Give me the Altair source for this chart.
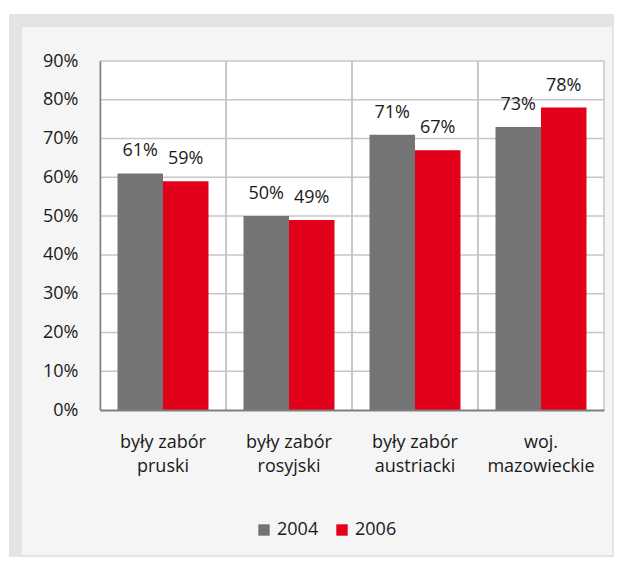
import altair as alt
import pandas as pd

categories = ["były zabór\npruski", "były zabór\nrosyjski", "były zabór\naustriacki", "woj.\nmazowieckie"]
years = ["2004", "2006"]
values_2004 = [61, 50, 71, 73]
values_2006 = [59, 49, 67, 78]
y_ticks = [0, 10, 20, 30, 40, 50, 60, 70, 80, 90]
colors = ["#747474", "#e2001a"]

rows = []
for c, a, b in zip(categories, values_2004, values_2006):
    rows.append({"cat": c, "year": "2004", "value": a, "label": f"{a}%"})
    rows.append({"cat": c, "year": "2006", "value": b, "label": f"{b}%"})
df = pd.DataFrame(rows)

FONT = "Open Sans"
FS = 18
W, H = 504, 349

x_axis = alt.Axis(title=None, labelExpr="split(datum.value, '\\n')", labelFontSize=FS,
                  labelFont=FONT, labelColor="#1a1a1a", labelPadding=32, labelLineHeight=24,
                  labelAlign="center", labelBaseline="middle",
                  ticks=False, domainColor="#7f7f7f", domainWidth=2, zindex=1,
                  labelAngle=0, grid=False)
y_axis = alt.Axis(title=None, values=y_ticks, labelExpr="datum.value + '%'", labelFontSize=FS,
                  labelFont=FONT, labelColor="#1a1a1a", ticks=False, labelPadding=22,
                  labelOverlap=False, labelFlush=False,
                  domainColor="#7f7f7f", domainWidth=1.5, grid=False, zindex=1)
x_scale = alt.Scale(paddingInner=0, paddingOuter=0)
y_scale = alt.Scale(domain=[0, 90], nice=False)
xoff = alt.XOffset("year:N", sort=years, scale=alt.Scale(paddingOuter=0.385, paddingInner=0))

one = alt.Data(values=[{"k": 1}])

frame = alt.Chart(one).mark_rect(color="#e4e4e4").encode(
    x=alt.value(-91), x2=alt.value(514), y=alt.value(-47), y2=alt.value(496))
panel = alt.Chart(one).mark_rect(color="#f4f5f4").encode(
    x=alt.value(-78), x2=alt.value(512), y=alt.value(-34), y2=alt.value(494))
plotbg = alt.Chart(one).mark_rect(color="#ffffff").encode(
    x=alt.value(0), x2=alt.value("width"), y=alt.value(0), y2=alt.value("height"))

grid_df = pd.DataFrame({"t": y_ticks[1:]})
hgrid = alt.Chart(grid_df).mark_rule(color="#c6c6c6", strokeWidth=1.5).encode(
    y=alt.Y("t:Q", scale=y_scale, axis=y_axis))
cat_df = pd.DataFrame({"cat": categories})
vgrid0 = alt.Chart(cat_df).mark_rule(color="#c6c6c6", strokeWidth=1.5).encode(
    x=alt.X("cat:N", sort=categories, bandPosition=0, scale=x_scale, axis=x_axis))
vgrid1 = alt.Chart(cat_df).mark_rule(color="#c6c6c6", strokeWidth=1.5).encode(
    x=alt.X("cat:N", sort=categories, bandPosition=1, scale=x_scale, axis=x_axis))

bars = alt.Chart(df).mark_bar().encode(
    x=alt.X("cat:N", sort=categories, scale=x_scale, axis=x_axis),
    xOffset=xoff,
    y=alt.Y("value:Q", scale=y_scale, axis=y_axis),
    color=alt.Color("year:N", sort=years, scale=alt.Scale(domain=years, range=colors),
                    legend=alt.Legend(title=None, orient="none", direction="horizontal",
                                      legendX=155, legendY=460, symbolType="square", symbolSize=130,
                                      symbolStrokeWidth=0, symbolOpacity=1, labelFontSize=FS,
                                      labelFont=FONT, labelColor="#1a1a1a", labelOffset=4,
                                      columnPadding=14, padding=0)),
)

texts = alt.Chart(df).mark_text(baseline="alphabetic", dy=-17, fontSize=FS, font=FONT,
                                color="#1a1a1a").encode(
    x=alt.X("cat:N", sort=categories, scale=x_scale, axis=x_axis),
    xOffset=xoff,
    y=alt.Y("value:Q", scale=y_scale, axis=y_axis),
    text="label:N",
)

chart = alt.layer(frame, panel, plotbg, hgrid, vgrid0, vgrid1, bars, texts).properties(
    width=W, height=H,
    autosize=alt.AutoSizeParams(type="none"),
    padding={"left": 92, "top": 53, "right": 10, "bottom": 147},
    background="#ffffff",
).configure_view(stroke=None)

chart.save("out.html", embed_options={"renderer": "svg", "actions": False})
